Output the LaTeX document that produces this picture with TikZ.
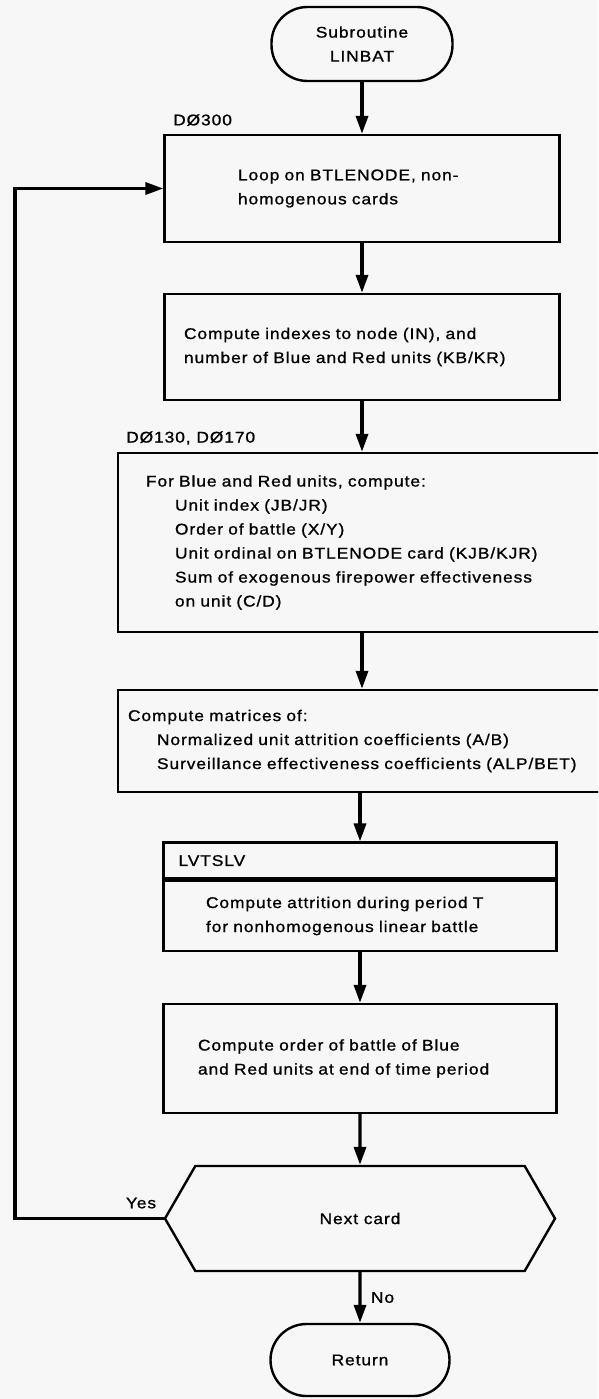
\documentclass[tikz,border=0pt]{standalone}
\usepackage{fontspec}
\setmainfont{Liberation Sans}[LetterSpace=6,FakeBold=1,FakeStretch=1.12]
\usetikzlibrary{arrows.meta,shapes.symbols}

\begin{document}
\begin{tikzpicture}[x=1pt,y=-1pt,
	font=\fontsize{15.5}{24}\selectfont,
	procbox/.style={draw, line width=2.4pt, align=left, inner sep=0pt},
	termbox/.style={draw, line width=2.4pt, rounded corners=36pt, align=center, inner sep=0pt},
	flow/.style={line width=3.4pt, -{Triangle[length=18pt,width=12pt]}},
	tag/.style={anchor=west, inner sep=0pt}]
	\useasboundingbox (0,0) rectangle (598,1399);
	\clip (0,0) rectangle (598,1399);
	\fill [black!3] (0,0) rectangle (598,1399);
	% start and loop body
	\node [termbox, minimum width=181pt, minimum height=74pt] (start) at (362,44) {Subroutine\\LINBAT};
	\node [procbox, minimum width=395pt, minimum height=107pt, text width=248pt] (loop) at (362,188.5) {Loop on BTLENODE, non-\\homogenous cards};
	\node [tag] (d300) at (173,120) {DØ300};
	\node [procbox, minimum width=395pt, minimum height=106pt, text width=356pt] (index) at (362,347) {Compute indexes to node (IN), and\\number of Blue and Red units (KB/KR)};
	\node [tag] (d130) at (126,438) {DØ130, DØ170};
	\node [procbox, minimum width=488pt, minimum height=179pt, text width=432pt] (units) at (362,542.5) {For Blue and Red units, compute:\\
		\hspace*{29pt}Unit index (JB/JR)\\
		\hspace*{29pt}Order of battle (X/Y)\\
		\hspace*{29pt}Unit ordinal on BTLENODE card (KJB/KJR)\\
		\hspace*{29pt}Sum of exogenous firepower effectiveness\\
		\hspace*{29pt}on unit (C/D)};
	\node [procbox, minimum width=488pt, minimum height=102pt, text width=468pt] (matrix) at (362,741) {Compute matrices of:\\
		\hspace*{29pt}Normalized unit attrition coefficients (A/B)\\
		\hspace*{29pt}Surveillance effectiveness coefficients (ALP/BET)};
	% LVTSLV call
	\node [procbox, minimum width=393pt, minimum height=70pt, text width=308pt] (attr) at (360,916) {Compute attrition during period T\\for nonhomogenous linear battle};
	\node [procbox, anchor=south, minimum height=36pt, text width=363pt, inner xsep=15pt] (lvt) at (attr.north) {LVTSLV};
	\node [procbox, minimum width=393pt, minimum height=109pt, text width=324pt] (order) at (360,1058.5) {Compute order of battle of Blue\\and Red units at end of time period};
	\node [draw, line width=2.4pt, signal, signal to=west and east, signal pointer angle=120, minimum width=390pt, minimum height=105pt, inner sep=0pt] (next) at (360,1218.5) {Next card};
	\node [termbox, minimum width=179pt, minimum height=72pt] (return) at (360,1360) {Return};
	\coordinate (back) at (15,1218.5);
	% connectors
	\draw [flow] (start) -- (loop);
	\draw [flow] (loop) -- (index);
	\draw [flow] (index) -- (units);
	\draw [flow] (units) -- (matrix);
	\draw [flow] (matrix.south -| lvt.north) -- (lvt.north);
	\draw [flow] (attr) -- (order);
	\draw [flow] (order) -- (next);
	\draw [flow] (next) -- (return) node [midway, right=6pt] (no) {No};
	\draw [flow] (next.west) -- (back) |- (loop.west);
	\node (yes) at (141,1203) {Yes};
\end{tikzpicture}
\end{document}
